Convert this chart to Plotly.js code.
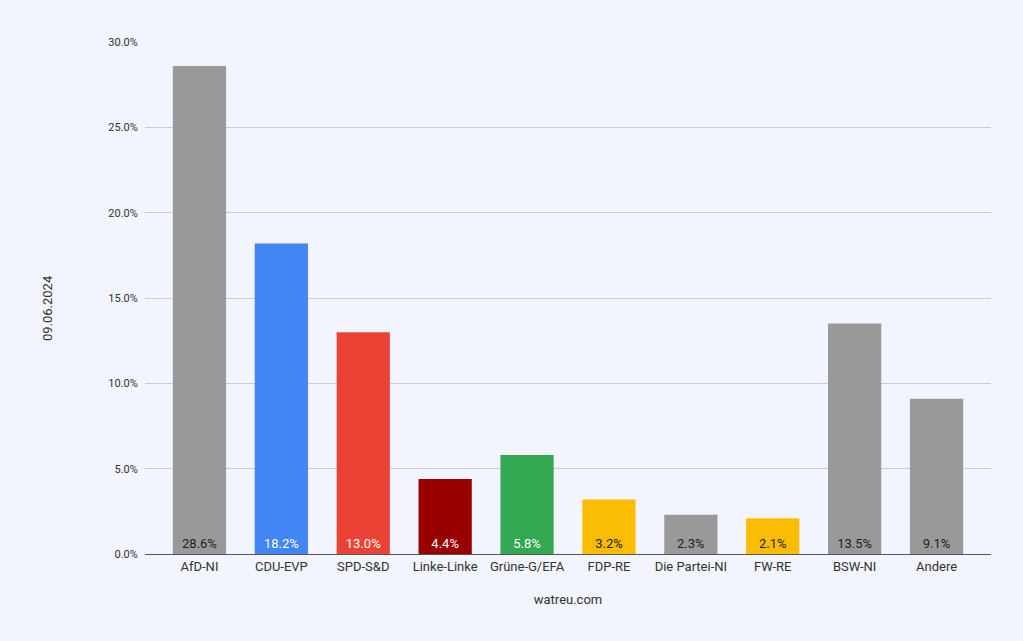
<!DOCTYPE html>
<html>
<head>
<meta charset="utf-8">
<script src="https://cdn.plot.ly/plotly-3.0.1.min.js"></script>
<style>html,body{margin:0;padding:0;background:#f2f4fe;}#chart{width:1023px;height:641px;}</style>
</head>
<body>
<div id="chart"></div>
<script>
const categories = ["AfD-NI","CDU-EVP","SPD-S&D","Linke-Linke","Grüne-G/EFA","FDP-RE","Die Partei-NI","FW-RE","BSW-NI","Andere"];
const values = [28.6,18.2,13.0,4.4,5.8,3.2,2.3,2.1,13.5,9.1];
const barColors = ["#999999","#4285f4","#ea4335","#990000","#34a853","#fbbc04","#999999","#fbbc04","#999999","#999999"];
const labelColors = ["#222222","#ffffff","#ffffff","#ffffff","#ffffff","#222222","#222222","#222222","#222222","#222222"];
const yTitle = "09.06.2024";
const xTitle = "watreu.com";

Plotly.newPlot("chart", [{
  type: "bar",
  x: categories,
  y: values,
  marker: {color: barColors},
  width: 0.65,
  text: values.map(v => v.toFixed(1) + "%"),
  textposition: "inside",
  insidetextanchor: "start",
  textangle: 0,
  textfont: {family: "Roboto, sans-serif", size: 13, color: labelColors},
  hoverinfo: "none"
}], {
  width: 1023, height: 641,
  paper_bgcolor: "#f2f4fe",
  plot_bgcolor: "#f2f4fe",
  margin: {l: 145, r: 32, t: 42, b: 87},
  font: {family: "Roboto, sans-serif", color: "#333333"},
  showlegend: false,
  xaxis: {
    type: "category",
    range: [-0.665, 9.665],
    tickfont: {size: 13, color: "#333333"},
    showline: true, linecolor: "#555555", linewidth: 1,
    ticks: "", showgrid: false,
    title: {text: xTitle, font: {size: 13, color: "#333333"}, standoff: 22}
  },
  yaxis: {
    range: [0, 30],
    dtick: 5,
    tickformat: ".1f",
    ticksuffix: "%",
    tickfont: {size: 11, color: "#333333"},
    gridcolor: "#c8cade",
    zeroline: false,
    ticks: "outside", ticklen: 4, tickcolor: "rgba(0,0,0,0)"
  },
  annotations: [{
    text: yTitle, textangle: -90, showarrow: false,
    xref: "paper", yref: "paper", x: -0.116, y: 0.48,
    xanchor: "center", yanchor: "middle",
    font: {size: 13, color: "#333333"}
  }]
}, {staticPlot: true});
</script>
</body>
</html>
